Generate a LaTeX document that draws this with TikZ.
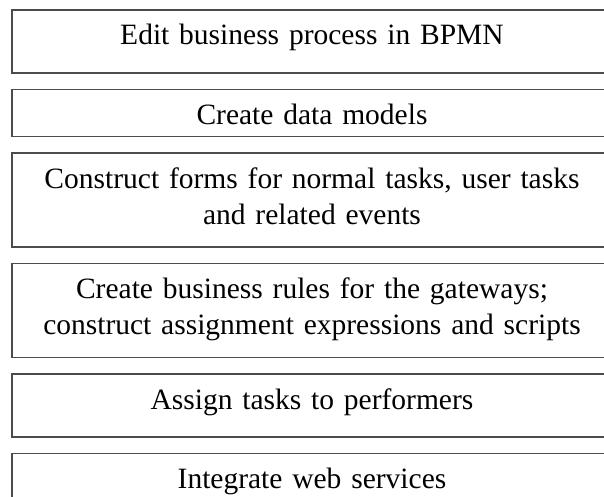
\documentclass[tikz,border=0pt]{standalone}
\usepackage{fontspec}
\setmainfont{Liberation Serif}
\usetikzlibrary{positioning}

\begin{document}
\begin{tikzpicture}[x=1pt, y=1pt, node distance=16.5pt,
  stage/.style={draw=black!70, line width=1.5pt, inner sep=0pt, outer sep=0pt,
    minimum width=600pt, text width=600pt, align=center, text height=35pt,
    font=\fontsize{29.5pt}{36pt}\selectfont},
  twolines/.style={stage, text depth=59pt}]
\path[use as bounding box] (0, 0) rectangle (604, -497);
\clip (0, 0) rectangle (604, -497);
\node[stage, anchor=north, text depth=28pt] (edit) at (312, -10) {Edit business process in BPMN};
\node[stage, text depth=12pt, below=of edit] (data) {Create data models};
\node[twolines, below=of data] (forms) {Construct forms for normal tasks, user tasks\\ and related events};
\node[twolines, below=of forms] (rules) {Create business rules for the gateways;\\ construct assignment expressions and scripts};
\node[stage, text depth=28pt, below=of rules] (assign) {Assign tasks to performers};
\node[stage, text depth=12pt, below=of assign] (services) {Integrate web services};
\end{tikzpicture}
\end{document}
